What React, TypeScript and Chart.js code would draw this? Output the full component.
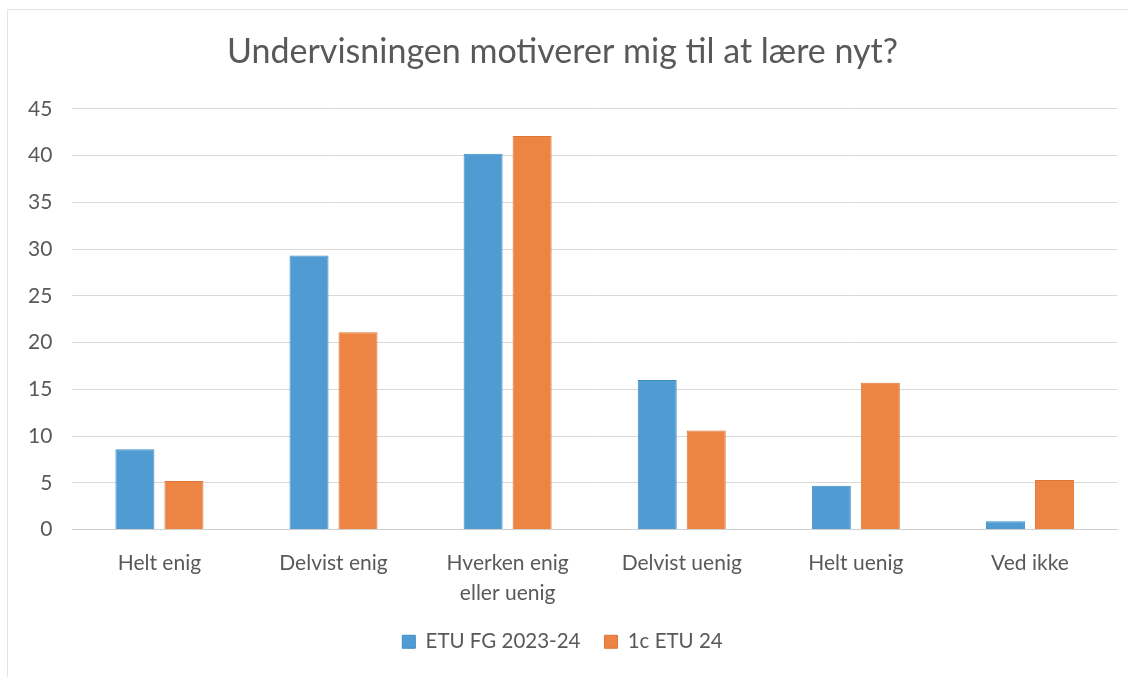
import React, { useEffect, useRef } from "react";
import { Chart, registerables } from "chart.js";

Chart.register(...registerables);

const categories: (string | string[])[] = [
  "Helt enig",
  "Delvist enig",
  ["Hverken enig", "eller uenig"],
  "Delvist uenig",
  "Helt uenig",
  "Ved ikke",
];
const seriesNames = ["ETU FG 2023-24", "1c ETU 24"];
const etuFg = [8.6, 29.3, 40.2, 16.0, 4.7, 0.9];
const etu1c = [5.2, 21.1, 42.1, 10.6, 15.7, 5.3];
const titleText = "Undervisningen motiverer mig til at lære nyt?";

const FONT = "Lato, 'Open Sans', sans-serif";

export default function App() {
  const ref = useRef<HTMLCanvasElement | null>(null);
  useEffect(() => {
    if (!ref.current) return;
    const chart = new Chart(ref.current, {
      type: "bar",
      data: {
        labels: categories,
        datasets: [
          {
            label: seriesNames[0],
            data: etuFg,
            backgroundColor: "#4F9BD2",
            borderColor: "#3F8CC4",
            borderWidth: 1,
            categoryPercentage: 0.563,
            barPercentage: 0.796,
          },
          {
            label: seriesNames[1],
            data: etu1c,
            backgroundColor: "#EC8443",
            borderColor: "#E07535",
            borderWidth: 1,
            categoryPercentage: 0.563,
            barPercentage: 0.796,
          },
        ],
      },
      options: {
        responsive: true,
        maintainAspectRatio: false,
        animation: false,
        layout: { padding: { left: 8, right: 15, top: 32, bottom: 15 } },
        plugins: {
          title: {
            display: true,
            text: titleText,
            color: "#595959",
            font: { family: FONT, size: 34, weight: "normal" },
            padding: { top: 0, bottom: 36 },
          },
          legend: {
            position: "bottom",
            labels: {
              color: "#595959",
              font: { family: FONT, size: 20.5 },
              boxWidth: 13,
              boxHeight: 13,
              padding: 24,
            },
          },
          tooltip: { enabled: false },
        },
        scales: {
          x: {
            grid: { display: false, drawTicks: false },
            border: { display: true, color: "#D0D0D0" },
            ticks: {
              color: "#595959",
              font: { family: FONT, size: 21, lineHeight: 1.45 },
              padding: 18,
              maxRotation: 0,
            },
            afterFit: (scale: any) => {
              scale.height = scale.height - 19;
            },
          },
          y: {
            min: 0,
            max: 45,
            grid: { color: "#D9D9D9", drawTicks: false },
            border: { display: false },
            ticks: {
              stepSize: 5,
              color: "#595959",
              font: { family: FONT, size: 21 },
              padding: 20,
            },
          },
        },
      },
    });
    return () => chart.destroy();
  }, []);
  return (
    <div style={{ position: "fixed", inset: 0, background: "#fff" }}>
      <canvas ref={ref} />
      <div
        style={{
          position: "absolute",
          top: 9,
          left: 7,
          right: 4,
          bottom: 0,
          borderTop: "1px solid #E4E4E4",
          borderLeft: "1px solid #E4E4E4",
          pointerEvents: "none",
        }}
      />
    </div>
  );
}
